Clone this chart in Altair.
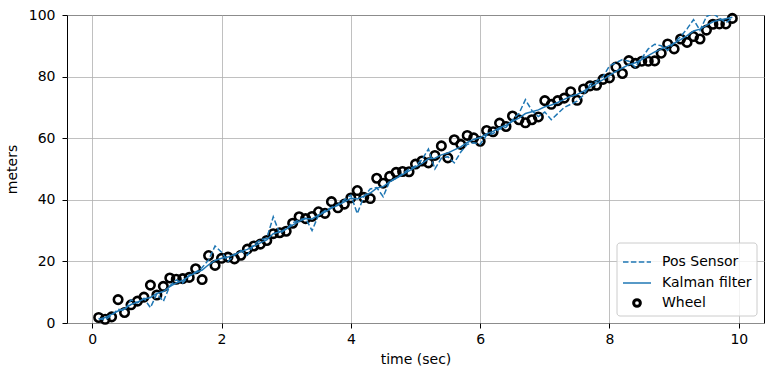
import altair as alt
import pandas as pd

time_sec = [round(0.1 * i, 1) for i in range(1, 100)]

wheel = [1.8, 1.2, 2.0, 7.6, 3.4, 5.9, 7.1, 8.4, 12.3, 9.1, 11.9, 14.6, 14.2, 14.4, 14.8, 17.6, 14.1, 21.9, 18.7, 21.0,
         21.4, 20.8, 22.0, 24.0, 25.0, 25.6, 26.8, 29.0, 29.3, 29.8, 32.4, 34.5, 33.9, 34.6, 36.1, 35.6, 39.4, 37.4, 38.6, 40.6,
         43.0, 40.8, 40.4, 47.0, 45.4, 47.6, 48.9, 49.2, 49.1, 51.6, 52.6, 52.0, 54.4, 57.5, 53.6, 59.5, 58.0, 60.9, 60.1, 59.0,
         62.5, 62.1, 64.9, 63.8, 67.2, 66.0, 65.0, 66.0, 66.9, 72.2, 71.0, 72.2, 73.0, 75.1, 72.3, 76.0, 77.0, 77.2, 79.1, 79.6,
         83.1, 81.0, 85.2, 84.3, 85.0, 85.0, 85.1, 87.6, 90.6, 89.0, 92.2, 91.1, 93.0, 92.2, 95.1, 97.0, 97.1, 97.1, 98.9]

pos_sensor = [1.5, 1.0, 2.5, 4.5, 4.0, 7.5, 6.5, 8.0, 5.0, 9.5, 7.0, 12.0, 14.0, 13.0, 15.5, 16.5, 18.0, 20.5, 25.0, 23.0,
              20.0, 22.0, 23.5, 22.0, 25.5, 27.0, 27.5, 34.5, 29.0, 30.5, 32.5, 33.5, 34.0, 30.0, 35.0, 36.5, 37.5, 38.5, 40.0, 41.5,
              35.5, 41.0, 43.5, 44.0, 41.0, 46.0, 47.0, 48.5, 50.0, 51.0, 53.0, 56.5, 50.0, 53.5, 54.0, 52.0, 55.5, 58.0, 58.5, 58.0,
              61.0, 61.5, 63.0, 63.5, 66.0, 68.0, 72.5, 69.0, 67.0, 68.5, 66.0, 68.0, 70.0, 71.0, 72.0, 74.0, 77.5, 78.5, 80.0, 83.5,
              84.5, 85.5, 85.0, 83.0, 86.0, 89.0, 90.5, 90.0, 88.5, 91.0, 93.0, 95.5, 98.5, 95.0, 99.5, 100.5, 99.0, 97.5, 99.0]

kalman = [1.2, 1.8, 2.8, 3.9, 4.7, 6.0, 6.8, 7.8, 8.3, 9.6, 10.2, 11.8, 13.0, 13.8, 15.2, 16.3, 17.2, 18.9, 20.3, 21.0,
          21.4, 22.3, 23.2, 23.9, 25.0, 26.0, 27.0, 29.0, 29.6, 30.5, 31.8, 33.0, 33.9, 33.8, 35.0, 36.0, 37.3, 38.2, 39.3, 40.5,
          40.3, 41.2, 42.2, 43.8, 44.3, 45.8, 47.0, 48.2, 49.4, 50.6, 51.8, 53.3, 53.5, 54.6, 55.2, 56.2, 57.2, 58.6, 59.6, 60.2,
          61.4, 62.2, 63.4, 64.2, 65.5, 66.5, 68.0, 68.6, 69.2, 70.2, 70.8, 71.6, 72.6, 73.6, 74.2, 75.3, 76.6, 77.7, 79.0, 80.4,
          81.7, 82.8, 83.9, 84.5, 85.5, 86.8, 88.0, 89.0, 89.8, 90.8, 92.0, 93.3, 94.8, 95.4, 96.6, 97.8, 98.4, 98.8, 99.3]

legend_labels = ["Pos Sensor", "Kalman filter", "Wheel"]
x_ticks = [0, 2, 4, 6, 8, 10]
y_ticks = [0, 20, 40, 60, 80, 100]

df = pd.DataFrame({"t": time_sec, "wheel": wheel, "sensor": pos_sensor, "kalman": kalman})

BLUE = "#1f77b4"
FONT = "DejaVu Sans"
FS = 14

xenc = alt.X("t:Q", scale=alt.Scale(domain=[-0.39, 10.39], nice=False, zero=False),
             axis=alt.Axis(values=x_ticks, title="time (sec)", format="d"))
yaxis = alt.Axis(values=y_ticks, title="meters")
yscale = alt.Scale(domain=[0, 100], nice=False)

base = alt.Chart(df)

wheel_layer = base.mark_point(shape="circle", filled=False, size=72, strokeWidth=2.6,
                              color="black", opacity=1).encode(
    x=xenc, y=alt.Y("wheel:Q", scale=yscale, axis=yaxis))
sensor_layer = base.mark_line(color=BLUE, strokeWidth=1.5, strokeDash=[5.5, 2.4], clip=True).encode(
    x=xenc, y=alt.Y("sensor:Q", scale=yscale, axis=yaxis))
kalman_layer = base.mark_line(color=BLUE, strokeWidth=1.5).encode(
    x=xenc, y=alt.Y("kalman:Q", scale=yscale, axis=yaxis))

# legend (drawn in pixel space of the plot area)
lg_box = alt.Chart(pd.DataFrame({"a": [0]})).mark_rect(
    fill="white", fillOpacity=0.8, stroke="#cccccc", strokeWidth=1, cornerRadius=3).encode(
    x=alt.value(550), x2=alt.value(690), y=alt.value(228), y2=alt.value(301))
lg_dash = alt.Chart(pd.DataFrame({"a": [0]})).mark_rule(
    color=BLUE, strokeWidth=1.5, strokeDash=[5.5, 2.4]).encode(
    x=alt.value(556), x2=alt.value(584), y=alt.value(247))
lg_solid = alt.Chart(pd.DataFrame({"a": [0]})).mark_rule(
    color=BLUE, strokeWidth=1.5).encode(
    x=alt.value(556), x2=alt.value(584), y=alt.value(268))
lg_circle = alt.Chart(pd.DataFrame({"a": [0]})).mark_point(
    shape="circle", filled=False, size=45, strokeWidth=3, color="black", opacity=1).encode(
    x=alt.value(570), y=alt.value(288))
lg_text = alt.Chart(pd.DataFrame({"label": legend_labels, "yy": [247, 268, 288]})).mark_text(
    align="left", baseline="middle", font=FONT, fontSize=FS, color="black").encode(
    x=alt.value(595), y=alt.Y("yy:Q", scale=None), text="label:N")

chart = alt.layer(
    wheel_layer, sensor_layer, kalman_layer, lg_box, lg_dash, lg_solid, lg_circle, lg_text
).properties(
    width=697, height=308,
    autosize=alt.AutoSizeParams(type="none"),
    padding={"left": 67, "top": 15, "right": 9, "bottom": 53},
).configure_view(
    stroke="black", strokeWidth=1
).configure_axis(
    domain=False,
    grid=True, gridColor="#b0b0b0", gridWidth=0.8,
    ticks=True, tickColor="black", tickSize=5, tickWidth=1,
    labelFont=FONT, labelFontSize=FS, labelColor="black",
    titleFont=FONT, titleFontSize=FS, titleFontWeight="normal", titleColor="black",
).configure_axisX(
    labelPadding=4, titlePadding=6
).configure_axisY(
    labelPadding=7, titlePadding=9
)

chart.save("out.html", embed_options={"renderer": "svg", "actions": False})
